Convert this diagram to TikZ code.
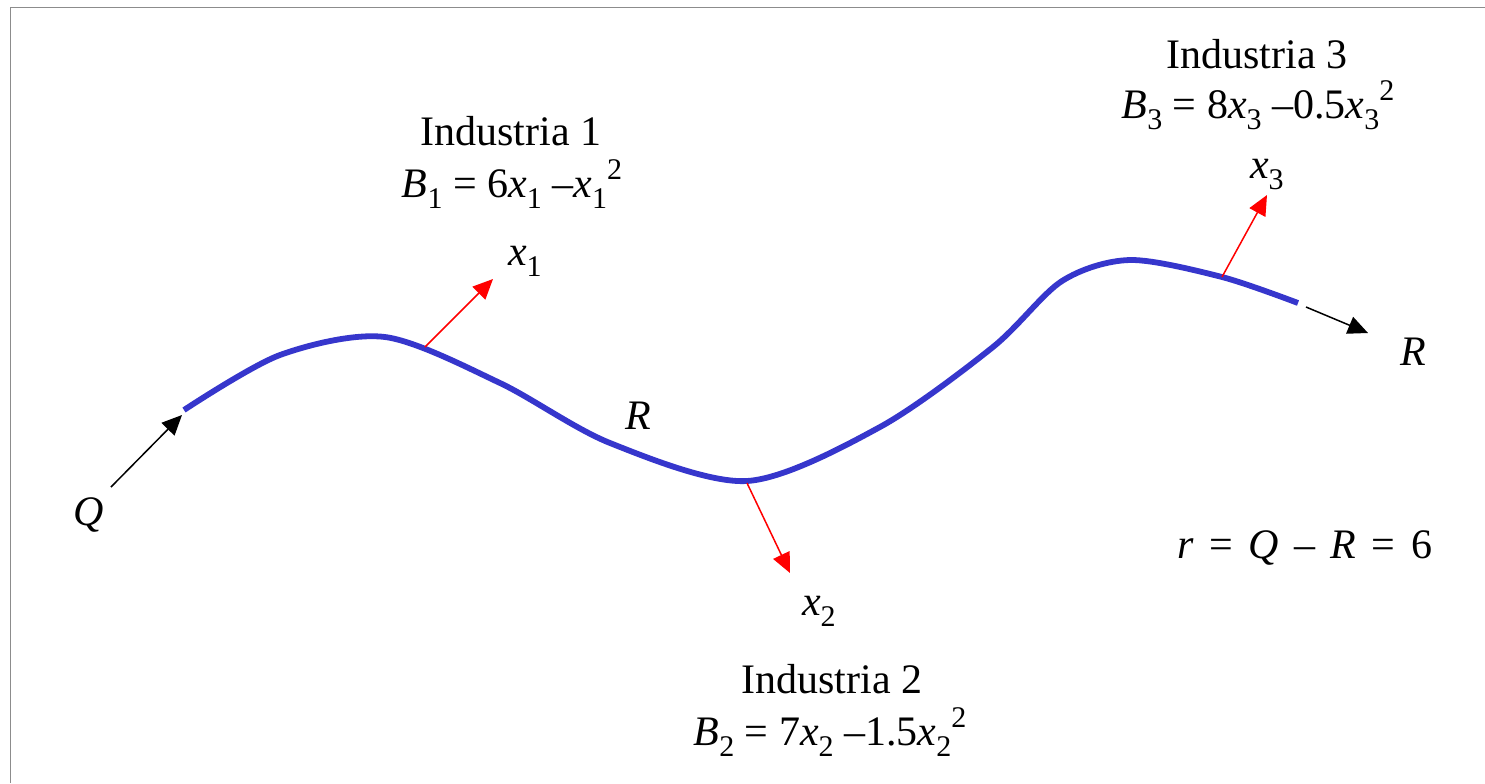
\documentclass[tikz,border=0pt]{standalone}
\usepackage{fontspec}
\setmainfont{Liberation Serif}
\usetikzlibrary{arrows.meta}
\definecolor{riverblue}{RGB}{54,54,204}
\definecolor{framegray}{RGB}{140,140,140}
\newcommand{\sbw}[1]{\raisebox{-0.28em}{\fontsize{15}{15}\selectfont #1}}
\newcommand{\spw}[1]{\raisebox{0.42em}{\fontsize{15}{15}\selectfont #1}}
\newcommand{\mi}[1]{\textit{#1}}
\newcommand{\eqs}{\hspace{0.37em}}
\begin{document}
\begin{tikzpicture}[x=0.5pt,y=-0.5pt,
  txt/.style={inner sep=0pt,outer sep=0pt,font=\fontsize{21}{25}\selectfont},
  flow/.style={black,line width=0.75pt,-{Triangle[length=10pt,width=9pt]}},
  take/.style={red,line width=0.75pt,-{Triangle[length=10pt,width=9pt]}},
  river/.style={riverblue,line width=2.9pt}]
\useasboundingbox (0,0) rectangle (1485,783);
\draw[framegray,line width=0.8pt] (10.5,783) -- (10.5,7.5) -- (1485,7.5);
% river
\draw[river] plot[smooth,tension=0.5] coordinates {(184,410) (280,355) (385,337) (500,383) (610,443) (747,481) (880,427) (993,347) (1062,281) (1130,260) (1222,277) (1298,303)};
% coordinates
\coordinate (qs) at (111,487);
\coordinate (qe) at (182,415);
\coordinate (rs) at (1306,307);
\coordinate (re) at (1368,333);
\coordinate (p1) at (425,347);
\coordinate (t1) at (493,279);
\coordinate (p2) at (747,483);
\coordinate (t2) at (790,573);
\coordinate (p3) at (1222,277);
\coordinate (t3) at (1267,195);
\draw[flow] (qs) -- (qe);
\draw[flow] (rs) -- (re);
\draw[take] (p1) -- (t1);
\draw[take] (p2) -- (t2);
\draw[take] (p3) -- (t3);
% labels
\node[txt,anchor=base] (ind1) at (511,145) {Industria 1};
\node[txt,anchor=base] (b1) at (512,197) {\mi{B}\sbw{1} = 6\mi{x}\sbw{1} –\mi{x}\sbw{1}\spw{2}};
\node[txt,anchor=base west] (x1) at (508,265) {\mi{x}\sbw{1}};
\node[txt,anchor=base] (ind3) at (1257,68) {Industria 3};
\node[txt,anchor=base] (b3) at (1258,118) {\mi{B}\sbw{3} = 8\mi{x}\sbw{3} –0.5\mi{x}\sbw{3}\spw{2}};
\node[txt,anchor=base west] (x3) at (1250,178) {\mi{x}\sbw{3}};
\node[txt,anchor=base] (ind2) at (832,693) {Industria 2};
\node[txt,anchor=base] (b2) at (830,745) {\mi{B}\sbw{2} = 7\mi{x}\sbw{2} –1.5\mi{x}\sbw{2}\spw{2}};
\node[txt,anchor=base west] (x2) at (802,615) {\mi{x}\sbw{2}};
\node[txt,anchor=base west] (req) at (1177,558) {\mi{r}\eqs=\eqs\mi{Q}\eqs–\eqs\mi{R}\eqs=\eqs6};
\node[txt,anchor=base west] (q) at (73,525) {\mi{Q}};
\node[txt,anchor=base west] (rmid) at (625,429) {\mi{R}};
\node[txt,anchor=base west] (rout) at (1400,365) {\mi{R}};
\end{tikzpicture}
\end{document}
